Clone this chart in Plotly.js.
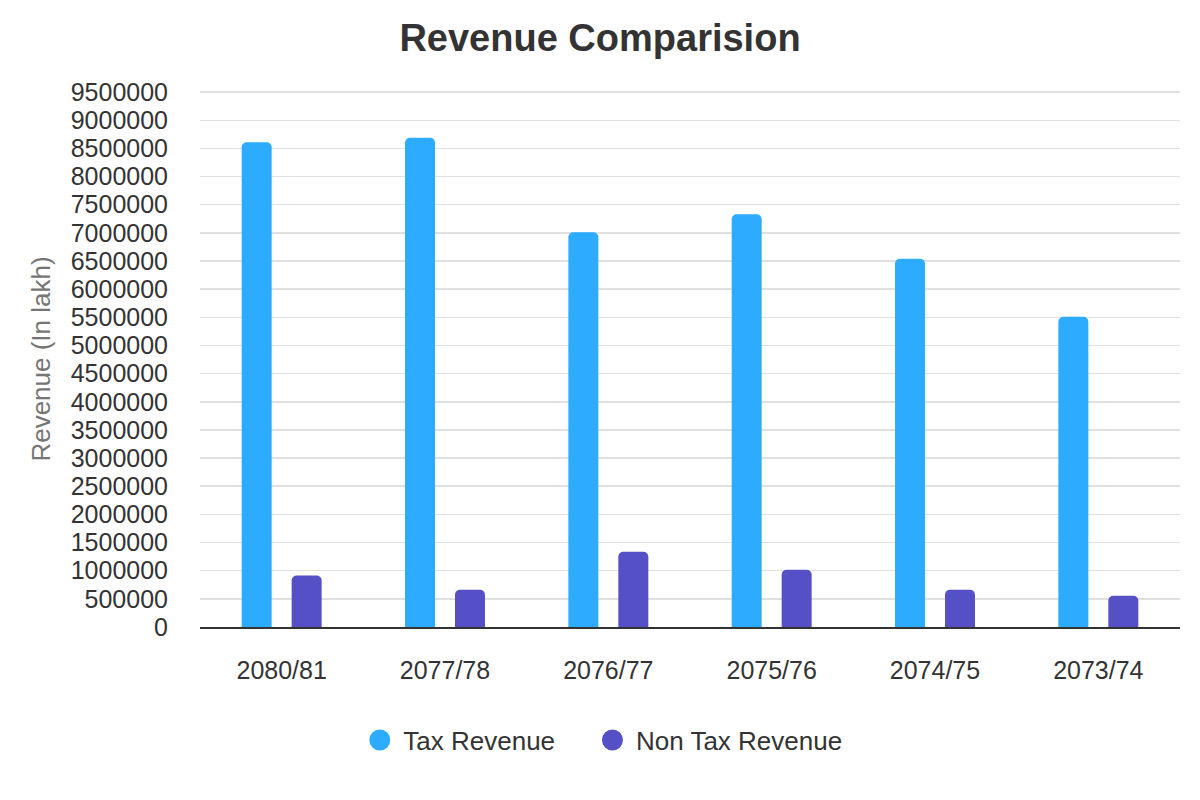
<!DOCTYPE html>
<html>
<head>
<meta charset="utf-8">
<script src="https://cdn.plot.ly/plotly-3.0.1.min.js"></script>
<style>html,body{margin:0;padding:0;background:#fff}#chart{width:1200px;height:800px}</style>
</head>
<body>
<div id="chart"></div>
<script>
const years = ["2080/81", "2077/78", "2076/77", "2075/76", "2074/75", "2073/74"];
const taxRevenue = [8610000, 8690000, 7010000, 7330000, 6540000, 5510000];
const nonTaxRevenue = [916000, 660000, 1335000, 1018000, 660000, 553000];
const seriesNames = ["Tax Revenue", "Non Tax Revenue"];
const colors = ["#2DABFE", "#5550C5"];

const font = "Arial, 'Liberation Sans', sans-serif";

const traces = [
  {type: "bar", x: years, y: taxRevenue, name: seriesNames[0], marker: {color: colors[0], cornerradius: 5}, showlegend: false},
  {type: "bar", x: years, y: nonTaxRevenue, name: seriesNames[1], marker: {color: colors[1], cornerradius: 5}, showlegend: false},
  {type: "scatter", mode: "markers", x: [null], y: [null], name: seriesNames[0] + "&nbsp;&nbsp;&nbsp;&nbsp;", marker: {color: colors[0], size: 16, line: {color: colors[0], width: 5}}, showlegend: true},
  {type: "scatter", mode: "markers", x: [null], y: [null], name: seriesNames[1], marker: {color: colors[1], size: 16, line: {color: colors[1], width: 5}}, showlegend: true}
];

const layout = {
  width: 1200, height: 800,
  paper_bgcolor: "#fff", plot_bgcolor: "#fff",
  margin: {l: 200, r: 20, t: 91, b: 173, autoexpand: false},
  font: {family: font, color: "#333"},
  title: {text: "<b>Revenue Comparision</b>", x: 0.5, xanchor: "center", y: 0.953, yanchor: "middle", font: {size: 38, color: "#333", family: font}},
  barmode: "group",
  bargap: 0.388,
  bargroupgap: 0.4,
  xaxis: {
    type: "category",
    showgrid: false, zeroline: false,
    showline: true, linecolor: "#333", linewidth: 2,
    ticks: "outside", ticklen: 20, tickcolor: "rgba(0,0,0,0)",
    tickangle: 0,
    tickfont: {size: 25, color: "#333", family: font},
    fixedrange: true
  },
  yaxis: {
    range: [0, 9520000], dtick: 500000, tick0: 0,
    showgrid: true, gridcolor: "#e0e0e0", gridwidth: 1.5,
    zeroline: false, showline: false,
    ticks: "outside", ticklen: 26, tickcolor: "rgba(0,0,0,0)",
    tickformat: "d",
    tickfont: {size: 25, color: "#333", family: font},
    title: {text: "Revenue (In lakh)", font: {size: 26, color: "#757575", family: font}, standoff: 12},
    fixedrange: true
  },
  legend: {
    orientation: "h", x: 0.41, xanchor: "center", y: -0.211, yanchor: "middle",
    font: {size: 26, color: "#333", family: font},
    itemwidth: 37
  },
  showlegend: true
};

Plotly.newPlot("chart", traces, layout, {displayModeBar: false, staticPlot: true});
</script>
</body>
</html>
